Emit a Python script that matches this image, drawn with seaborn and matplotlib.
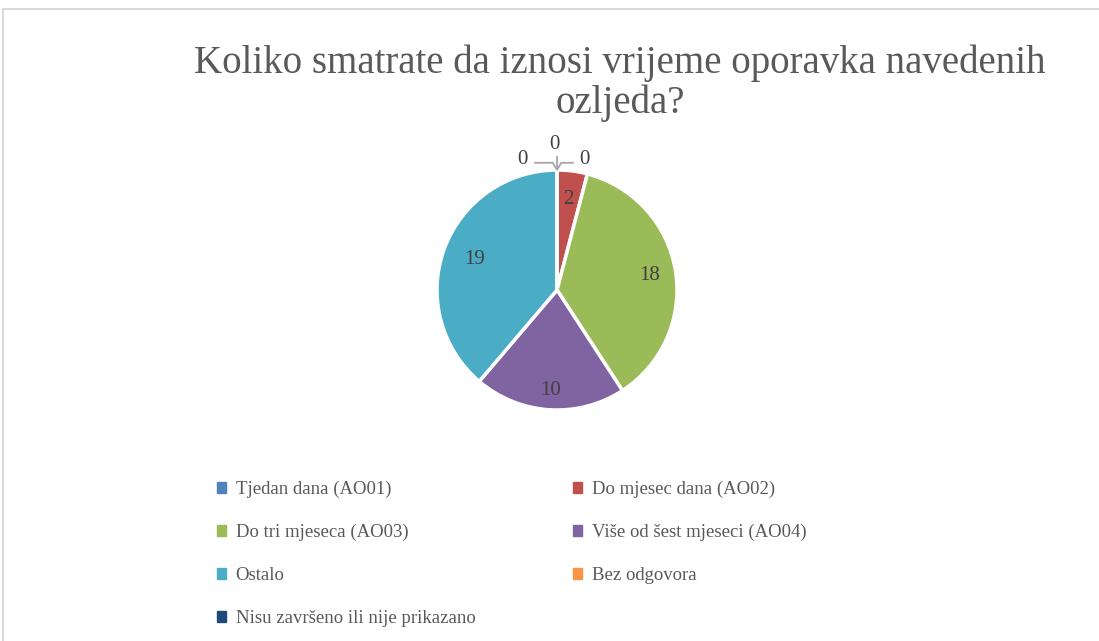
import numpy as np
import matplotlib
matplotlib.use("Agg")
import matplotlib.pyplot as plt
import matplotlib.patches as mpatches
import seaborn as sns

# chart data
categories = [
    "Tjedan dana (AO01)",
    "Do mjesec dana (AO02)",
    "Do tri mjeseca (AO03)",
    "Više od šest mjeseci (AO04)",
    "Ostalo",
    "Bez odgovora",
    "Nisu završeno ili nije prikazano",
]
counts = [0, 2, 18, 10, 19, 0, 0]
colors = ["#4F81BD", "#C0504D", "#9BBB59", "#8064A2", "#4BACC6", "#F79646", "#1F497D"]
title = "Koliko smatrate da iznosi vrijeme oporavka navedenih\nozljeda?"

sns.set_theme(style="white")
plt.rcParams["font.family"] = ["Liberation Serif", "DejaVu Serif"]

W, H = 1099, 641
fig = plt.figure(figsize=(W / 100, H / 100), dpi=100)

# grey chart frame
fig.patches.append(mpatches.Rectangle((3 / W, -0.05), 1.2, 1 - 9 / H + 0.05,
                                      transform=fig.transFigure, fill=False,
                                      edgecolor="#d9d9d9", lw=1.5))

# pie axes: centre (557, 290), radius 118 px
cx, cy, R, half = 557, 290, 118, 150
ax = fig.add_axes([(cx - half) / W, (H - cy - half) / H, 2 * half / W, 2 * half / H])
lim = half / R
ax.set_xlim(-lim, lim)
ax.set_ylim(-lim, lim)
ax.set_aspect("equal")
ax.axis("off")

palette = sns.color_palette(colors)
wedges, _ = ax.pie(counts, colors=palette, startangle=90, counterclock=False,
                   radius=1, wedgeprops=dict(edgecolor="white", linewidth=2.5))

# value labels inside non-zero wedges
label_r = {1: 0.76, 2: 0.78, 3: 0.84, 4: 0.73}
for i, (w, v) in enumerate(zip(wedges, counts)):
    if v == 0:
        continue
    ang = np.deg2rad((w.theta1 + w.theta2) / 2)
    r = label_r.get(i, 0.78)
    ax.text(r * np.cos(ang), r * np.sin(ang), str(v), ha="center", va="center",
            fontsize=15, color="#404040")

# zero-valued slices: labels outside with leader lines
zero_idx = [i for i, v in enumerate(counts) if v == 0]
ang0 = np.deg2rad(wedges[zero_idx[0]].theta1)
px, py = np.cos(ang0), np.sin(ang0)
offsets = [(-0.29, 0.09), (-0.02, 0.215), (0.23, 0.09)]
lines = [[(px, py), (px - 0.035, py + 0.06), (px - 0.19, py + 0.06)],
         [(px, py), (px, py + 0.12)],
         [(px, py), (px + 0.035, py + 0.06), (px + 0.14, py + 0.06)]]
for k, i in enumerate(zero_idx):
    dx, dy = offsets[k]
    ax.text(px + dx, py + dy, str(counts[i]), ha="center", va="center",
            fontsize=15, color="#404040")
    xs, ys = zip(*lines[k])
    ax.plot(xs, ys, color="#a6a6a6", lw=1.3, solid_capstyle="butt")

# title
fig.text(620 / W, 1 - 83 / H, title, ha="center", va="center", fontsize=28,
         color="#595959", linespacing=1.1)

# legend, row-wise order in two columns
handles = [mpatches.Patch(color=c) for c in colors]
order = [0, 2, 4, 6, 1, 3, 5]
leg = fig.legend([handles[i] for i in order], [categories[i] for i in order],
                 ncol=2, loc="upper left", bbox_to_anchor=(200 / W, 1 - 464 / H),
                 frameon=False, fontsize=13.5, handlelength=0.5, handleheight=0.5,
                 handletextpad=0.5, columnspacing=5.2, labelspacing=1.38,
                 labelcolor="#595959")

fig.savefig("out.png", dpi=100)
